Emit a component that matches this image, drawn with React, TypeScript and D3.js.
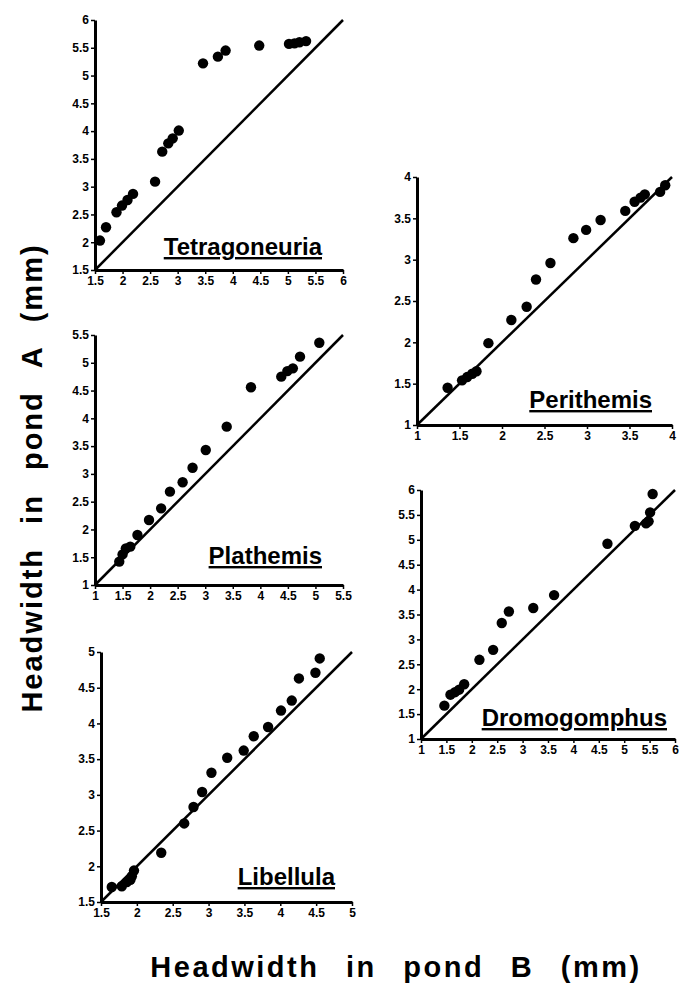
import React, { useEffect, useRef } from 'react';
import * as d3 from 'd3';

// headwidths (mm): pond B on x, pond A on y
const tetraB = [1.59, 1.70, 1.89, 1.99, 2.09, 2.19, 2.59, 2.72, 2.83, 2.91, 3.02, 3.46, 3.73, 3.87, 4.48, 5.02, 5.12, 5.21, 5.33];
const tetraA = [2.03, 2.27, 2.54, 2.66, 2.76, 2.87, 3.09, 3.63, 3.78, 3.87, 4.01, 5.22, 5.34, 5.45, 5.54, 5.57, 5.58, 5.60, 5.62];

const periB = [1.36, 1.53, 1.59, 1.65, 1.70, 1.84, 2.11, 2.29, 2.40, 2.57, 2.84, 2.99, 3.16, 3.45, 3.56, 3.63, 3.68, 3.86, 3.92];
const periA = [1.45, 1.54, 1.58, 1.62, 1.65, 1.99, 2.27, 2.43, 2.76, 2.96, 3.26, 3.36, 3.48, 3.59, 3.70, 3.75, 3.79, 3.82, 3.90];

const plathB = [1.44, 1.50, 1.56, 1.64, 1.77, 1.98, 2.20, 2.36, 2.59, 2.77, 3.01, 3.39, 3.83, 4.38, 4.49, 4.59, 4.72, 5.07];
const plathA = [1.42, 1.55, 1.66, 1.69, 1.90, 2.17, 2.38, 2.68, 2.85, 3.11, 3.43, 3.85, 4.56, 4.75, 4.85, 4.90, 5.11, 5.36];

const dromoB = [1.46, 1.58, 1.67, 1.75, 1.85, 2.15, 2.42, 2.59, 2.73, 3.21, 3.62, 4.67, 5.21, 5.43, 5.48, 5.51, 5.56];
const dromoA = [1.67, 1.89, 1.94, 1.99, 2.10, 2.59, 2.79, 3.33, 3.56, 3.63, 3.89, 4.92, 5.28, 5.33, 5.37, 5.55, 5.92];

const libB = [1.65, 1.79, 1.86, 1.91, 1.93, 1.96, 2.34, 2.66, 2.79, 2.91, 3.04, 3.26, 3.49, 3.63, 3.83, 4.01, 4.16, 4.26, 4.49, 4.55];
const libA = [1.71, 1.72, 1.78, 1.81, 1.86, 1.94, 2.19, 2.60, 2.83, 3.04, 3.31, 3.52, 3.62, 3.82, 3.95, 4.18, 4.32, 4.63, 4.71, 4.91];

// tick labels
const tetraTicks = [1.5, 2, 2.5, 3, 3.5, 4, 4.5, 5, 5.5, 6];
const periTicks = [1, 1.5, 2, 2.5, 3, 3.5, 4];
const plathTicks = [1, 1.5, 2, 2.5, 3, 3.5, 4, 4.5, 5, 5.5];
const dromoTicks = [1, 1.5, 2, 2.5, 3, 3.5, 4, 4.5, 5, 5.5, 6];
const libTicks = [1.5, 2, 2.5, 3, 3.5, 4, 4.5, 5];

const names = ['Tetragoneuria', 'Perithemis', 'Plathemis', 'Dromogomphus', 'Libellula'];

// panel boxes: left, right, bottom, top ; label end offset from right, label baseline offset above axis
const layout = [
  { left: 95, right: 343, bottom: 270, top: 20, labelDx: 21, labelDy: 15 },
  { left: 417, right: 672, bottom: 425, top: 177, labelDx: 20, labelDy: 17 },
  { left: 95, right: 343, bottom: 585, top: 335, labelDx: 21, labelDy: 21 },
  { left: 421, right: 675, bottom: 739, top: 490, labelDx: 8, labelDy: 13 },
  { left: 101, right: 352, bottom: 902, top: 652, labelDx: 17, labelDy: 17 },
];

const series = [
  { b: tetraB, a: tetraA, ticks: tetraTicks },
  { b: periB, a: periA, ticks: periTicks },
  { b: plathB, a: plathA, ticks: plathTicks },
  { b: dromoB, a: dromoA, ticks: dromoTicks },
  { b: libB, a: libA, ticks: libTicks },
];

const tickFont = '"Liberation Sans Narrow", "Arial Narrow", "Liberation Sans", sans-serif';
const labelFont = '"Liberation Sans", Arial, sans-serif';

const App: React.FC = () => {
  const svgRef = useRef<SVGSVGElement>(null);

  useEffect(() => {
    if (!svgRef.current) return;
    const svg = d3.select(svgRef.current);
    svg.selectAll('*').remove();

    series.forEach((s, i) => {
      const box = layout[i];
      const lo = s.ticks[0];
      const hi = s.ticks[s.ticks.length - 1];
      const x = d3.scaleLinear().domain([lo, hi]).range([box.left, box.right]);
      const y = d3.scaleLinear().domain([lo, hi]).range([box.bottom, box.top]);
      const g = svg.append('g');

      const xAxis = g.append('g')
        .attr('transform', `translate(0,${box.bottom})`)
        .call(d3.axisBottom(x).tickValues(s.ticks).tickSize(4).tickSizeOuter(0).tickPadding(2).tickFormat(d => String(d)));
      const yAxis = g.append('g')
        .attr('transform', `translate(${box.left},0)`)
        .call(d3.axisLeft(y).tickValues(s.ticks).tickSize(4).tickSizeOuter(0).tickPadding(2).tickFormat(d => String(d)));

      [xAxis, yAxis].forEach(ax => {
        ax.select('.domain').attr('stroke', '#000').attr('stroke-width', 3);
        ax.selectAll('.tick line').attr('stroke', '#000').attr('stroke-width', 1.5);
        ax.selectAll('.tick text')
          .attr('fill', '#000')
          .style('font-family', tickFont)
          .style('font-size', '12px')
          .style('font-weight', 'bold');
      });

      // 1:1 line
      g.append('line')
        .attr('x1', x(lo)).attr('y1', y(lo))
        .attr('x2', x(hi)).attr('y2', y(hi))
        .attr('stroke', '#000')
        .attr('stroke-width', 2.5);

      g.selectAll('circle.pt')
        .data(s.b.map((v, k) => [v, s.a[k]]))
        .join('circle')
        .attr('class', 'pt')
        .attr('cx', d => x(d[0]))
        .attr('cy', d => y(d[1]))
        .attr('r', 5.2)
        .attr('fill', '#000');

      g.append('text')
        .attr('x', box.right - box.labelDx)
        .attr('y', box.bottom - box.labelDy)
        .attr('text-anchor', 'end')
        .attr('text-decoration', 'underline')
        .style('font-family', labelFont)
        .style('font-size', '24px')
        .style('font-weight', 'bold')
        .text(names[i]);
    });

    svg.append('text')
      .attr('x', 396)
      .attr('y', 977)
      .attr('text-anchor', 'middle')
      .style('font-family', labelFont)
      .style('font-size', '29px')
      .style('font-weight', 'bold')
      .style('letter-spacing', '2.5px')
      .style('word-spacing', '16px')
      .text('Headwidth in pond B (mm)');

    svg.append('text')
      .attr('transform', 'translate(42,478) rotate(-90)')
      .attr('text-anchor', 'middle')
      .style('font-family', labelFont)
      .style('font-size', '29px')
      .style('font-weight', 'bold')
      .style('letter-spacing', '2px')
      .style('word-spacing', '14px')
      .text('Headwidth in pond A (mm)');
  }, []);

  return (
    <svg
      ref={svgRef}
      width={679}
      height={985}
      style={{ position: 'absolute', left: 0, top: 0, background: '#fff' }}
    />
  );
};

export default App;
